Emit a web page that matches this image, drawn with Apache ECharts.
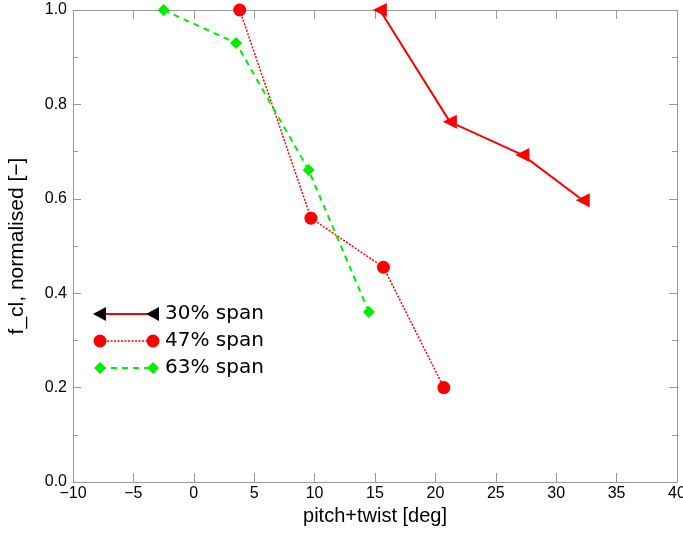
<!DOCTYPE html>
<html><head><meta charset="utf-8">
<script src="https://cdn.jsdelivr.net/npm/echarts@6/dist/echarts.min.js"></script>
<style>html,body{margin:0;padding:0;background:#fff}#c{width:683px;height:535px}</style>
</head><body><div id="c"></div>
<script>
var seriesNames = ['30% span', '47% span', '63% span'];
var span30X = [15.4, 21.2, 27.2, 32.2];
var span30Y = [1.0, 0.763, 0.693, 0.597];
var span47X = [3.8, 9.7, 15.7, 20.7];
var span47Y = [1.0, 0.559, 0.455, 0.2];
var span63X = [-2.5, 3.5, 9.5, 14.5];
var span63Y = [1.0, 0.93, 0.661, 0.36];
var xTicks = [-10, -5, 0, 5, 10, 15, 20, 25, 30, 35, 40];
var yTicks = [0.0, 0.2, 0.4, 0.6, 0.8, 1.0];

function pairs(xs, ys){ return xs.map(function(x,i){ return [x, ys[i]]; }); }
var FONT = '"Liberation Sans", Arial, sans-serif';
var LFONT = '"DejaVu Sans", sans-serif';
var axisGray = '#9a9a9a';

var chart = echarts.init(document.getElementById('c'));
var gridL = 73, gridR = 6, gridT = 10, gridB = 53;

function xAx(pos, show){
  return {type:'value', position:pos, min:xTicks[0], max:xTicks[xTicks.length-1], interval:5,
    axisLine:{show:true, onZero:false, lineStyle:{color:axisGray, width:1}},
    axisTick:{show:true, inside:true, length:9, lineStyle:{color:axisGray}},
    minorTick:{show:false},
    splitLine:{show:false},
    axisLabel:{show:show, color:'#000', fontFamily:FONT, fontSize:16, margin:4,
      formatter:function(v){ return (v<0?'\u2212'+(-v):String(v)); }},
    name: show ? 'pitch+twist [deg]' : '', nameLocation:'middle', nameGap:24,
    nameTextStyle:{color:'#000', fontFamily:FONT, fontSize:20}
  };
}
function yAx(pos, show){
  return {type:'value', position:pos, min:0, max:1, interval:0.2,
    axisLine:{show:true, onZero:false, lineStyle:{color:axisGray, width:1}},
    axisTick:{show:true, inside:true, length:8, lineStyle:{color:axisGray}},
    minorTick:{show:true, splitNumber:2, length:5, lineStyle:{color:axisGray}},
    splitLine:{show:false},
    axisLabel:{show:show, color:'#000', fontFamily:FONT, fontSize:16, margin:6,
      formatter:function(v){ return v.toFixed(1); }},
    name: show ? 'f_cl, normalised [\u2212]' : '', nameLocation:'middle', nameGap:45,
    nameTextStyle:{color:'#000', fontFamily:FONT, fontSize:21}
  };
}

var legendX0 = 100, legendX1 = 153, legendTextX = 165, legendY = [314, 341, 368];
var graphics = [];
graphics.push({type:'line', shape:{x1:legendX0, y1:legendY[0], x2:legendX1, y2:legendY[0]}, style:{stroke:'#ff0000', lineWidth:2}});
[legendX0, legendX1].forEach(function(x){
  graphics.push({type:'polygon', shape:{points:[[x-7,legendY[0]],[x+6,legendY[0]-7],[x+6,legendY[0]+7]]}, style:{fill:'#000'}});
});
graphics.push({type:'line', shape:{x1:legendX0, y1:legendY[1], x2:legendX1, y2:legendY[1]}, style:{stroke:'#ff0000', lineWidth:1.5, lineDash:[2,1.5]}});
[legendX0, legendX1].forEach(function(x){
  graphics.push({type:'circle', shape:{cx:x, cy:legendY[1], r:6.5}, style:{fill:'#ff0000'}});
});
graphics.push({type:'line', shape:{x1:legendX0, y1:legendY[2], x2:legendX1, y2:legendY[2]}, style:{stroke:'#00ee00', lineWidth:2, lineDash:[6,5]}});
[legendX0, legendX1].forEach(function(x){
  graphics.push({type:'polygon', shape:{points:[[x-6,legendY[2]],[x,legendY[2]-6],[x+6,legendY[2]],[x,legendY[2]+6]]}, style:{fill:'#00ee00'}});
});
seriesNames.forEach(function(n,i){
  graphics.push({type:'text', x:legendTextX, y:legendY[i], style:{text:n, fill:'#000', font:'20px '+LFONT, textVerticalAlign:'middle'}});
});

chart.setOption({
  backgroundColor:'#fff',
  animation:false,
  grid:{left:gridL, right:gridR, top:gridT, bottom:gridB, containLabel:false, outerBoundsMode:'none'},
  xAxis:[xAx('bottom', true), xAx('top', false)],
  yAxis:[yAx('left', true), yAx('right', false)],
  graphic:graphics,
  series:[
    {name:seriesNames[0], type:'line', data:pairs(span30X, span30Y), symbol:'triangle', symbolRotate:90, symbolSize:[14,14],
      itemStyle:{color:'#ff0000'}, lineStyle:{color:'#ff0000', width:2}, clip:false},
    {name:seriesNames[1], type:'line', data:pairs(span47X, span47Y), symbol:'circle', symbolSize:13,
      itemStyle:{color:'#ff0000'}, lineStyle:{color:'#ff0000', width:1.5, type:[2,1.5]}, clip:false},
    {name:seriesNames[2], type:'line', data:pairs(span63X, span63Y), symbol:'diamond', symbolSize:12,
      itemStyle:{color:'#00ee00'}, lineStyle:{color:'#00ee00', width:2, type:[6,5]}, clip:false}
  ]
});
</script></body></html>
